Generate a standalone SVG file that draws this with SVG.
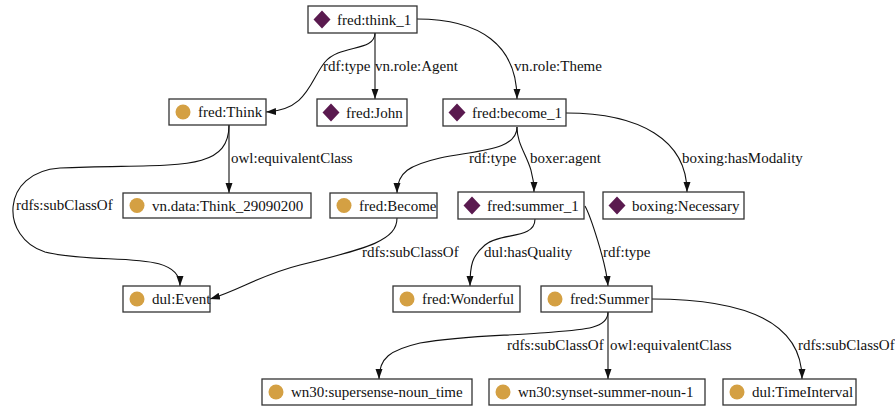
<svg xmlns="http://www.w3.org/2000/svg" width="895" height="407" viewBox="0 0 895 407">
<style>
.bg{fill:#fff}
.box{fill:#fff;stroke:#333;stroke-width:1.3}
.cls{fill:#d4a043}
.ind{fill:#5a1a4f}
.t{font-family:"Liberation Serif","Times New Roman",serif;font-size:15px;fill:#111}
.e{fill:none;stroke:#111;stroke-width:1.1;marker-end:url(#arr)}
</style>
<defs>
<marker id="arr" markerUnits="userSpaceOnUse" markerWidth="11" markerHeight="8" refX="10" refY="3.5" orient="auto">
<path d="M0,0 L10,3.5 L0,7 z" fill="#111"/>
</marker>
<path id="dia" d="M0,-9 L8.5,0 L0,9 L-8.5,0 z"/>
</defs>
<rect class="bg" x="0" y="0" width="895" height="407"/>
<g id="connectors">
<path class="e" d="M375,33 C375,52 340,44 325,62 C310,80 308,110 266,112"/>
<path class="e" d="M375,33 L375,99"/>
<path class="e" d="M417,19 C480,19 517,45 517,99"/>
<path class="e" d="M229,125 L229,193"/>
<path class="e" d="M229,125 C229,175 170,163 60,168 C0,172 0,238 45,252 C100,266 180,248 180,286"/>
<path class="e" d="M517,127 C517,150 480,150 440,158 C410,165 397,172 397,193"/>
<path class="e" d="M517,127 C517,150 534,160 534,192"/>
<path class="e" d="M566,113 C640,113 687,140 687,192"/>
<path class="e" d="M397,218 C397,240 370,248 300,265 C260,275 240,290 210,299"/>
<path class="e" d="M535,219 C535,240 500,232 485,245 C472,256 470,265 470,286"/>
<path class="e" d="M585,206 C590,215 606,262 608,286"/>
<path class="e" d="M608,312 C608,330 580,330 540,333 C500,336 460,336 420,343 C390,350 379,358 379,379"/>
<path class="e" d="M608,312 L608,379"/>
<path class="e" d="M652,299 C740,299 802,320 802,379"/>
<text class="t" x="323" y="71">rdf:type</text>
<text class="t" x="375" y="71">vn.role:Agent</text>
<text class="t" x="514" y="71">vn.role:Theme</text>
<text class="t" x="231" y="163">owl:equivalentClass</text>
<text class="t" x="16" y="210">rdfs:subClassOf</text>
<text class="t" x="469" y="163">rdf:type</text>
<text class="t" x="530" y="163">boxer:agent</text>
<text class="t" x="682" y="163">boxing:hasModality</text>
<text class="t" x="362" y="257">rdfs:subClassOf</text>
<text class="t" x="484" y="257">dul:hasQuality</text>
<text class="t" x="603" y="257">rdf:type</text>
<text class="t" x="507" y="350">rdfs:subClassOf</text>
<text class="t" x="610" y="350">owl:equivalentClass</text>
<text class="t" x="798" y="350">rdfs:subClassOf</text>
</g>
<g id="n_think_1"><rect class="box" x="308" y="6" width="109" height="27"/><use href="#dia" class="ind" x="322" y="19.5"/><text class="t" x="337" y="24.5">fred:think_1</text></g>
<g id="n_Think"><rect class="box" x="169" y="99" width="97" height="26"/><circle class="cls" cx="183" cy="112" r="7.5"/><text class="t" x="198" y="117">fred:Think</text></g>
<g id="n_John"><rect class="box" x="317" y="99" width="90" height="27"/><use href="#dia" class="ind" x="331" y="112.5"/><text class="t" x="346" y="117.5">fred:John</text></g>
<g id="n_become_1"><rect class="box" x="443" y="99" width="123" height="27"/><use href="#dia" class="ind" x="457" y="112.5"/><text class="t" x="472" y="117.5">fred:become_1</text></g>
<g id="n_vndata"><rect class="box" x="123" y="193" width="188" height="25"/><circle class="cls" cx="137" cy="205.5" r="7.5"/><text class="t" x="152" y="210.5">vn.data:Think_29090200</text></g>
<g id="n_Become"><rect class="box" x="330" y="193" width="107" height="25"/><circle class="cls" cx="344" cy="205.5" r="7.5"/><text class="t" x="359" y="210.5">fred:Become</text></g>
<g id="n_summer_1"><rect class="box" x="458" y="192" width="126" height="27"/><use href="#dia" class="ind" x="472" y="205.5"/><text class="t" x="487" y="210.5">fred:summer_1</text></g>
<g id="n_Necessary"><rect class="box" x="603" y="192" width="141" height="27"/><use href="#dia" class="ind" x="617" y="205.5"/><text class="t" x="632" y="210.5">boxing:Necessary</text></g>
<g id="n_Event"><rect class="box" x="123" y="286" width="87" height="26"/><circle class="cls" cx="137" cy="299" r="7.5"/><text class="t" x="152" y="304">dul:Event</text></g>
<g id="n_Wonderful"><rect class="box" x="393" y="286" width="127" height="26"/><circle class="cls" cx="407" cy="299" r="7.5"/><text class="t" x="422" y="304">fred:Wonderful</text></g>
<g id="n_Summer"><rect class="box" x="541" y="286" width="111" height="26"/><circle class="cls" cx="555" cy="299" r="7.5"/><text class="t" x="570" y="304">fred:Summer</text></g>
<g id="n_supersense"><rect class="box" x="262" y="379" width="210" height="26"/><circle class="cls" cx="276" cy="392" r="7.5"/><text class="t" x="291" y="397">wn30:supersense-noun_time</text></g>
<g id="n_synset"><rect class="box" x="489" y="379" width="216" height="26"/><circle class="cls" cx="503" cy="392" r="7.5"/><text class="t" x="518" y="397">wn30:synset-summer-noun-1</text></g>
<g id="n_TimeInterval"><rect class="box" x="723" y="379" width="133" height="26"/><circle class="cls" cx="737" cy="392" r="7.5"/><text class="t" x="752" y="397">dul:TimeInterval</text></g>
</svg>
